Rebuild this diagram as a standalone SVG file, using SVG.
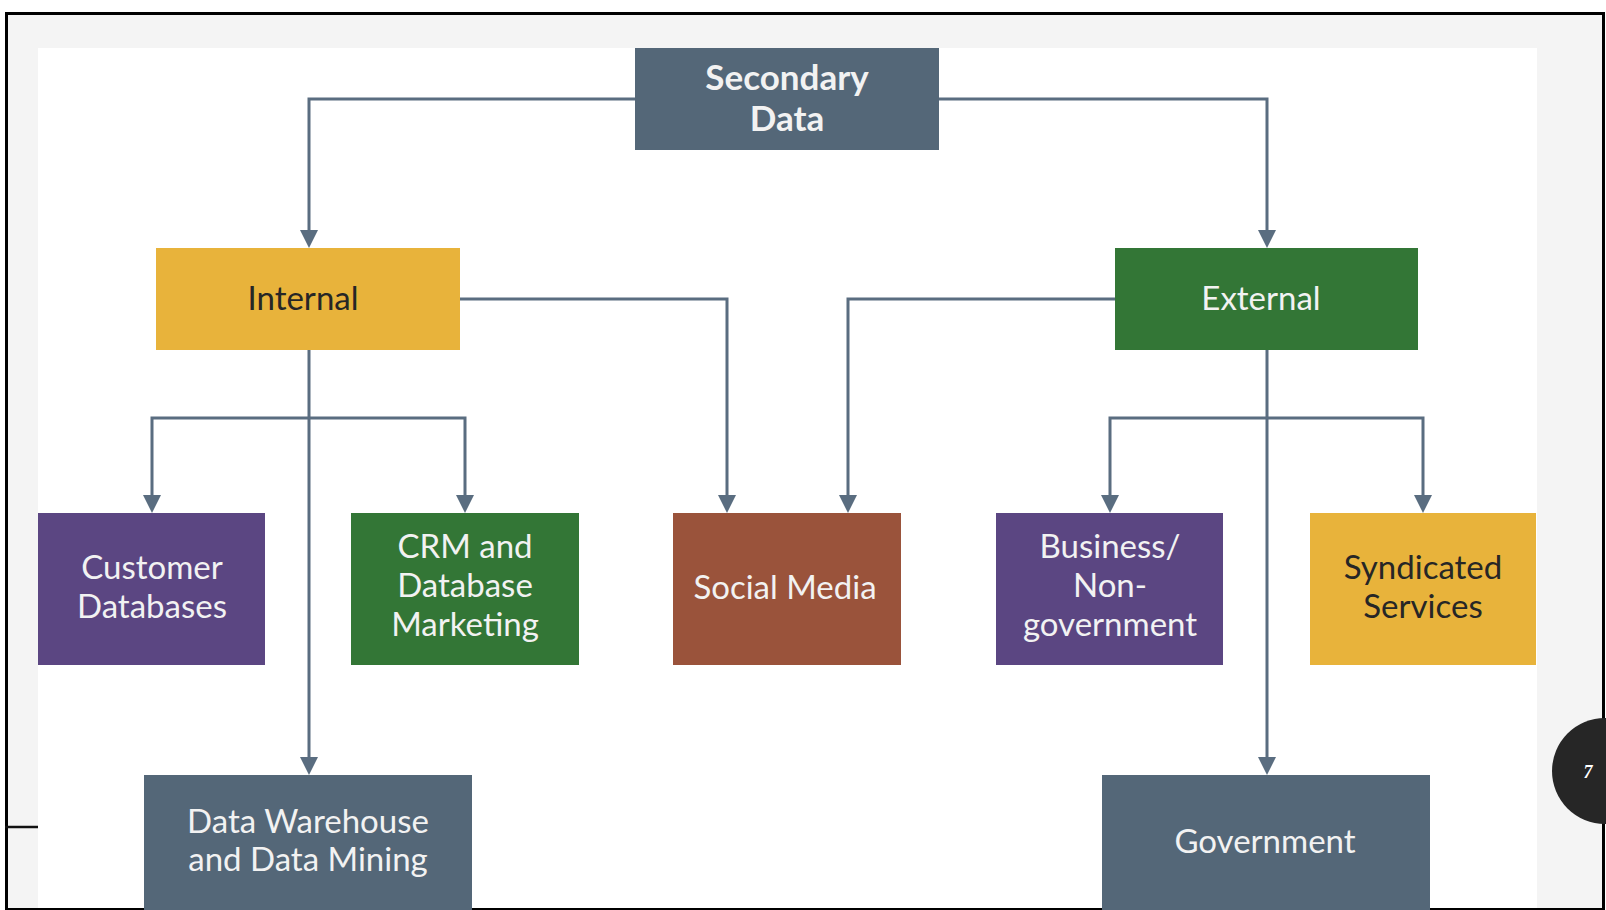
<svg xmlns="http://www.w3.org/2000/svg" width="1606" height="910" viewBox="0 0 1606 910">
<defs>
<style>
.frame{fill:#f4f4f4;stroke:#000;stroke-width:3}
.panel{fill:#ffffff}
.conn{fill:none;stroke:#5a6d80;stroke-width:3}
.lbl{font-family:Lato,"Noto Sans",sans-serif;font-size:33px;text-anchor:middle;fill:#f2f2f2}
.dark{fill:#262626}
.bold{font-weight:700;font-size:35px}
.slate{fill:#546778}
.yellow{fill:#e8b33b}
.green{fill:#337636}
.purple{fill:#5b4682}
.brown{fill:#9a533b}
</style>
</defs>
<rect x="0" y="0" width="1606" height="910" fill="#ffffff"/>
<rect class="frame" x="6.5" y="13.5" width="1597" height="896"/>
<rect class="panel" x="38" y="48" width="1499" height="860"/>
<line x1="5" y1="827" x2="38" y2="827" stroke="#111" stroke-width="2.5"/>
<circle cx="1605" cy="771" r="53" fill="#262626"/>
<text x="1588" y="778" font-family="'Liberation Serif',serif" font-style="italic" font-weight="700" font-size="18" fill="#ffffff" text-anchor="middle">7</text>
<g id="connectors">
<path class="conn" d="M635,99 H309 V231"/>
<path class="conn" d="M939,99 H1267 V231"/>
<path class="conn" d="M460,299 H727 V496"/>
<path class="conn" d="M1115,299 H848 V496"/>
<path class="conn" d="M309,350 V758"/>
<path class="conn" d="M152,496 V418 H465 V496"/>
<path class="conn" d="M1267,350 V758"/>
<path class="conn" d="M1110,496 V418 H1423 V496"/>
<g fill="#5a6d80">
<path d="M300,230 L318,230 L309,248 Z"/>
<path d="M1258,230 L1276,230 L1267,248 Z"/>
<path d="M718,495 L736,495 L727,513 Z"/>
<path d="M839,495 L857,495 L848,513 Z"/>
<path d="M143,495 L161,495 L152,513 Z"/>
<path d="M456,495 L474,495 L465,513 Z"/>
<path d="M1101,495 L1119,495 L1110,513 Z"/>
<path d="M1414,495 L1432,495 L1423,513 Z"/>
<path d="M300,757 L318,757 L309,775 Z"/>
<path d="M1258,757 L1276,757 L1267,775 Z"/>
</g>
</g>
<g id="secondary-data">
<rect class="slate" x="635" y="48" width="304" height="102"/>
<text class="lbl bold" x="787" y="90">Secondary</text>
<text class="lbl bold" x="787" y="131">Data</text>
</g>
<g id="internal">
<rect class="yellow" x="156" y="248" width="304" height="102"/>
<text class="lbl dark" x="303" y="310">Internal</text>
</g>
<g id="external">
<rect class="green" x="1115" y="248" width="303" height="102"/>
<text class="lbl" x="1261" y="310">External</text>
</g>
<g id="customer-databases">
<rect class="purple" x="38" y="513" width="227" height="152"/>
<text class="lbl" x="152" y="579">Customer</text>
<text class="lbl" x="152" y="618">Databases</text>
</g>
<g id="crm">
<rect class="green" x="351" y="513" width="228" height="152"/>
<text class="lbl" x="465" y="558">CRM and</text>
<text class="lbl" x="465" y="597">Database</text>
<text class="lbl" x="465" y="636">Marketing</text>
</g>
<g id="social-media">
<rect class="brown" x="673" y="513" width="228" height="152"/>
<text class="lbl" x="785" y="599">Social Media</text>
</g>
<g id="business">
<rect class="purple" x="996" y="513" width="227" height="152"/>
<text class="lbl" x="1110" y="558">Business/</text>
<text class="lbl" x="1110" y="597">Non-</text>
<text class="lbl" x="1110" y="636">government</text>
</g>
<g id="syndicated">
<rect class="yellow" x="1310" y="513" width="226" height="152"/>
<text class="lbl dark" x="1423" y="579">Syndicated</text>
<text class="lbl dark" x="1423" y="618">Services</text>
</g>
<g id="data-warehouse">
<rect class="slate" x="144" y="775" width="328" height="135"/>
<text class="lbl" x="308" y="833">Data Warehouse</text>
<text class="lbl" x="308" y="871">and Data Mining</text>
</g>
<g id="government">
<rect class="slate" x="1102" y="775" width="328" height="135"/>
<text class="lbl" x="1265" y="853">Government</text>
</g>
</svg>
